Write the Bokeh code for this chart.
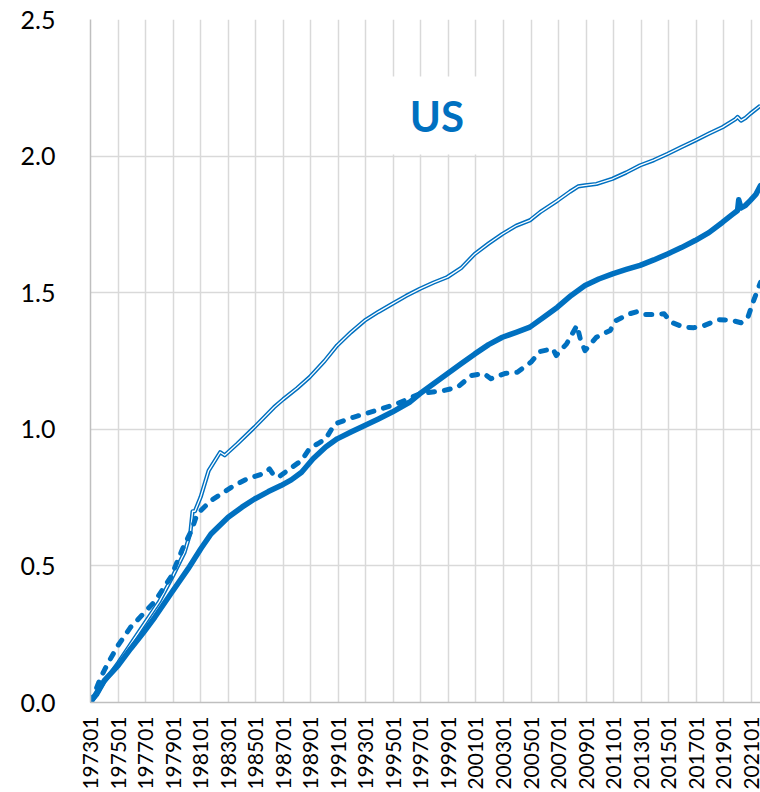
import math
from bokeh.plotting import figure
from bokeh.models import Range1d, FixedTicker, PrintfTickFormatter, Label, BoxAnnotation, ColumnDataSource
from bokeh.embed import file_html
from bokeh.resources import INLINE

# ---------------- data (period codes YYYYMM and values) ----------------
thin_periods = [197301, 197307, 197401, 197501, 197601, 197701, 197801, 197901, 197911, 198004,
                198006, 198008, 198101, 198108, 198206, 198210, 198309, 198412, 198605, 198701,
                198801, 198812, 199001, 199012, 199112, 199212, 199312, 199412, 199512, 199612,
                199712, 199812, 199912, 200012, 200112, 200212, 200312, 200412, 200509, 200612,
                200711, 200806, 200812, 200910, 201012, 201112, 201212, 201312, 201412, 201512,
                201612, 201712, 201812, 201911, 202001, 202004, 202008, 202012, 202109]
thin_values = [0.0, 0.03, 0.075, 0.145, 0.22, 0.295, 0.37, 0.465, 0.55, 0.62,
               0.70, 0.70, 0.752, 0.849, 0.916, 0.905, 0.947, 1.008, 1.081, 1.11,
               1.15, 1.191, 1.25, 1.307, 1.355, 1.398, 1.43, 1.459, 1.488, 1.514,
               1.537, 1.557, 1.59, 1.642, 1.68, 1.715, 1.745, 1.765, 1.795, 1.837,
               1.87, 1.889, 1.893, 1.898, 1.917, 1.94, 1.966, 1.985, 2.008, 2.033,
               2.057, 2.082, 2.106, 2.135, 2.143, 2.13, 2.14, 2.155, 2.185]

solid_periods = [197301, 197401, 197501, 197512, 197611, 197709, 197811, 198002, 198101, 198110,
                 198301, 198401, 198412, 198512, 198611, 198708, 198805, 198903, 199002, 199012,
                 199112, 199212, 199312, 199412, 199603, 199612, 199712, 199812, 199912, 200012,
                 200112, 200212, 200312, 200412, 200512, 200612, 200712, 200812, 200912, 201012,
                 201112, 201212, 201312, 201412, 201512, 201612, 201712, 201812, 201908, 202001,
                 202002, 202004, 202008, 202012, 202105, 202109]
solid_values = [0.0, 0.08, 0.135, 0.197, 0.255, 0.312, 0.398, 0.489, 0.562, 0.617,
                0.678, 0.715, 0.745, 0.772, 0.794, 0.815, 0.843, 0.892, 0.935, 0.965,
                0.99, 1.014, 1.038, 1.063, 1.099, 1.13, 1.167, 1.203, 1.24, 1.276,
                1.31, 1.337, 1.355, 1.374, 1.41, 1.447, 1.49, 1.526, 1.55, 1.569,
                1.585, 1.6, 1.62, 1.642, 1.665, 1.691, 1.72, 1.758, 1.785, 1.801,
                1.84, 1.81, 1.82, 1.837, 1.86, 1.892]

dash_periods = [197301, 197306, 197310, 197405, 197501, 197512, 197610, 197709, 197811, 197909,
                198005, 198010, 198110, 198207, 198306, 198404, 198412, 198509, 198601, 198605,
                198609, 198705, 198805, 198812, 198907, 199002, 199010, 199202, 199310, 199504,
                199612, 199809, 199909, 200009, 200108, 200202, 200302, 200401, 200501, 200509,
                200608, 200611, 200708, 200805, 200808, 200812, 200910, 201010, 201103, 201203,
                201209, 201302, 201311, 201409, 201503, 201602, 201611, 201708, 201808, 201907,
                202004, 202010, 202103, 202109]
dash_values = [0.0, 0.05, 0.093, 0.15, 0.209, 0.276, 0.32, 0.37, 0.459, 0.56,
               0.63, 0.69, 0.739, 0.764, 0.794, 0.815, 0.827, 0.84, 0.855, 0.83,
               0.825, 0.85, 0.886, 0.93, 0.947, 0.965, 1.02, 1.044, 1.069, 1.093,
               1.13, 1.142, 1.154, 1.197, 1.204, 1.185, 1.204, 1.209, 1.246, 1.285,
               1.295, 1.27, 1.313, 1.38, 1.33, 1.288, 1.337, 1.362, 1.398, 1.423,
               1.43, 1.42, 1.42, 1.423, 1.392, 1.374, 1.372, 1.38, 1.401, 1.40,
               1.39, 1.41, 1.471, 1.538]

tick_labels = ["197301", "197501", "197701", "197901", "198101", "198301", "198501",
               "198701", "198901", "199101", "199301", "199501", "199701", "199901",
               "200101", "200301", "200501", "200701", "200901", "201101", "201301",
               "201501", "201701", "201901", "202101"]
y_ticks = [0.0, 0.5, 1.0, 1.5, 2.0, 2.5]

title_text = "US"
title_period = 199803
title_value = 2.148

BLUE = "#0070C0"
GRID = "#D9D9D9"


def to_m(code):
    y, mo = divmod(int(code), 100)
    return (y - 1973) * 12 + (mo - 1)


x_end = to_m(thin_periods[-1])

p = figure(width=760, height=792, output_backend="svg", toolbar_location=None,
           x_range=Range1d(0, x_end), y_range=Range1d(0, 2.5),
           min_border_left=90, min_border_right=0, min_border_top=19, min_border_bottom=90)
p.outline_line_color = None
p.background_fill_color = "white"
p.border_fill_color = "white"

xticks = [to_m(t) for t in tick_labels]
p.xaxis.ticker = FixedTicker(ticks=xticks)
p.xaxis.major_label_overrides = {m: t for m, t in zip(xticks, tick_labels)}
p.xaxis.major_label_orientation = math.pi / 2
p.xaxis.major_label_text_font = "Lato"
p.xaxis.major_label_text_font_size = "21px"
p.xaxis.major_label_standoff = 14

p.yaxis.ticker = FixedTicker(ticks=y_ticks)
p.yaxis.formatter = PrintfTickFormatter(format="%.1f")
p.yaxis.major_label_text_font = "Lato"
p.yaxis.major_label_text_font_size = "25px"
p.yaxis.major_label_standoff = 35

for ax in (p.xaxis, p.yaxis):
    ax.major_tick_out = 0
    ax.major_tick_in = 0
    ax.minor_tick_out = 0
    ax.minor_tick_in = 0
    ax.axis_line_color = "#BFBFBF"
    ax.axis_line_width = 1.5
    ax.major_label_text_color = "#000000"

p.xgrid.ticker = FixedTicker(ticks=xticks)
p.ygrid.ticker = FixedTicker(ticks=y_ticks)
p.grid.grid_line_color = GRID
p.grid.grid_line_width = 1.5

# title box (white background hiding gridlines)
tx = to_m(title_period)
p.add_layout(BoxAnnotation(left=tx - 48, right=tx + 45, bottom=2.006, top=2.291,
                           fill_color="white", fill_alpha=1.0, line_color=None))
p.add_layout(Label(x=tx, y=title_value, text=title_text, text_color=BLUE,
                   text_font="Lato", text_font_style="bold", text_font_size="42px",
                   text_align="center", text_baseline="alphabetic"))

src_thin = ColumnDataSource(dict(x=[to_m(c) for c in thin_periods], y=thin_values))
src_solid = ColumnDataSource(dict(x=[to_m(c) for c in solid_periods], y=solid_values))
src_dash = ColumnDataSource(dict(x=[to_m(c) for c in dash_periods], y=dash_values))

p.line("x", "y", source=src_thin, line_color=BLUE, line_width=4.2, line_join="round")
p.line("x", "y", source=src_thin, line_color="white", line_width=1.3, line_join="round")
p.line("x", "y", source=src_solid, line_color=BLUE, line_width=5.5, line_join="round", line_cap="round")
p.line("x", "y", source=src_dash, line_color=BLUE, line_width=5, line_dash="6 10",
       line_cap="round", line_join="round")

open("out.html", "w").write(file_html(p, INLINE))
